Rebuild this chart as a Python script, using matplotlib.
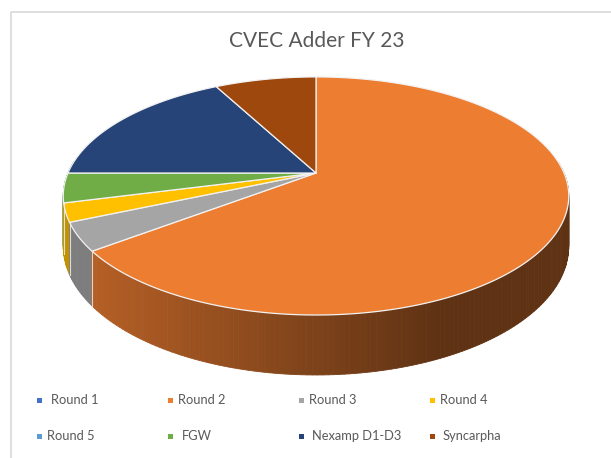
import numpy as np
import matplotlib
matplotlib.use("Agg")
import matplotlib.pyplot as plt
from matplotlib.patches import Polygon
import matplotlib.colors as mcolors

# ---- data ----
categories = ["Round 1", "Round 2", "Round 3", "Round 4", "Round 5", "FGW", "Nexamp D1-D3", "Syncarpha"]
values = [0.0, 64.7, 3.8, 2.5, 0.0, 4.0, 17.2, 7.8]
colors = ["#4472C4", "#ED7D31", "#A5A5A5", "#FFC000", "#5B9BD5", "#70AD47", "#264478", "#9E480E"]
title = "CVEC Adder FY 23"

W, H = 611, 458
fig = plt.figure(figsize=(W / 100, H / 100), dpi=100)
ax = fig.add_axes([0, 0, 1, 1])
ax.set_xlim(0, W)
ax.set_ylim(H, 0)
ax.axis("off")

# chart border (top/left visible)
ax.plot([10.5, 10.5, W + 5], [H + 5, 11.5, 11.5], color="#D9D9D9", lw=1.2)

# ---- projection of the 3D pie ----
cx, cy = 316.0, 173.0
A, B, K, T = 248.0, 114.6, 0.193, 48.4


def proj(u, v, d):
    w = 1.0 + K * v
    return cx + A * u / w, cy + (-B * v + T * d) / w


def shade(hexc, f):
    r, g, b = mcolors.to_rgb(hexc)
    return (r * f, g * f, b * f)


def side_factor(x):
    t = np.clip((x - 95.0) / (440.0 - 95.0), 0, 1)
    return 0.76 - 0.36 * t


total = float(sum(values))
start = 90.0
slices = []
for val, col in zip(values, colors):
    sweep = 360.0 * val / total
    if sweep > 0:
        slices.append((start, start - sweep, col))
    start -= sweep

# side quads, painter's order (far first)
quads = []
for a0, a1, col in slices:
    n = max(2, int(abs(a0 - a1) / 1.0) + 1)
    angs = np.radians(np.linspace(a0, a1, n))
    for i in range(n - 1):
        ta, tb = angs[i], angs[i + 1]
        ua, va = np.cos(ta), np.sin(ta)
        ub, vb = np.cos(tb), np.sin(tb)
        vm = np.sin((ta + tb) / 2)
        if vm > 0.1:
            continue
        p = [proj(ua, va, 0), proj(ub, vb, 0), proj(ub, vb, 1), proj(ua, va, 1)]
        xm = (p[0][0] + p[1][0]) / 2
        quads.append((vm, p, shade(col, side_factor(xm))))
quads.sort(key=lambda q: -q[0])
for vm, p, c in quads:
    ax.add_patch(Polygon(p, closed=True, facecolor=c, edgecolor=c, lw=0.6))

# vertical seam lines between slices on the front side
for a0, a1, col in slices:
    t = np.radians(a0)
    if np.sin(t) < -0.15:
        x0, y0 = proj(np.cos(t), np.sin(t), 0)
        x1, y1 = proj(np.cos(t), np.sin(t), 1)
        ax.plot([x0, x1], [y0, y1], color="#F2F2F2", lw=0.8, alpha=0.8)

# top faces
for a0, a1, col in slices:
    n = max(2, int(abs(a0 - a1) / 0.5) + 1)
    angs = np.radians(np.linspace(a0, a1, n))
    pts = [proj(0, 0, 0)] + [proj(np.cos(t), np.sin(t), 0) for t in angs]
    ax.add_patch(Polygon(pts, closed=True, facecolor=col, edgecolor="#F2F2F2", lw=0.9,
                         joinstyle="round"))

# title
ax.text(317, 41, title, ha="center", va="center", fontsize=15,
        family=["Lato", "DejaVu Sans"], color="#595959")

# legend
leg_pos = [(39, 400), (170, 400), (301, 400), (432, 400),
           (39, 436), (170, 436), (301, 436), (432, 436)]
text_x = [51, 178, 309, 440, 47, 182, 312, 443]
for (mx, my), tx, lab, col in zip(leg_pos, text_x, categories, colors):
    ax.add_patch(Polygon([(mx - 2.5, my - 2.5), (mx + 2.5, my - 2.5), (mx + 2.5, my + 2.5), (mx - 2.5, my + 2.5)],
                         closed=True, facecolor=col, edgecolor="none"))
    ax.text(tx, my, lab, ha="left", va="center", fontsize=9.3,
            family=["Lato", "DejaVu Sans"], color="#595959")

fig.savefig("out.png", dpi=100)
